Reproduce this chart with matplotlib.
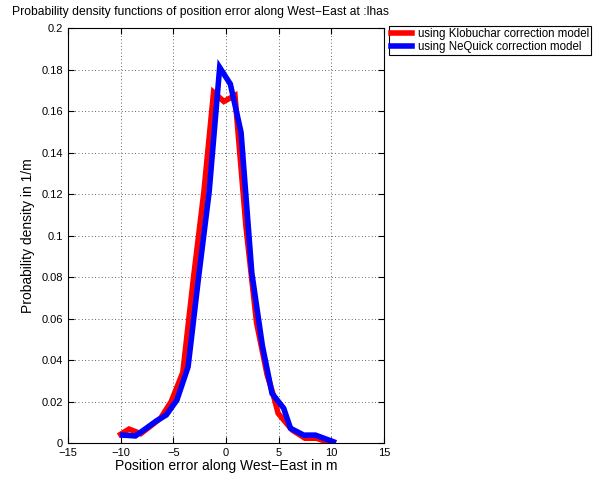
import matplotlib
matplotlib.use("Agg")
import matplotlib.pyplot as plt
import numpy as np

plt.rcParams['font.family'] = ['Liberation Sans', 'DejaVu Sans']

title = "Probability density functions of position error along West\u2212East at :lhas"
xlabel = "Position error along West\u2212East in m"
ylabel = "Probability density in 1/m"
labels = ["using Klobuchar correction model", "using NeQuick correction model"]

klob_x = [-10.0, -9.2, -8.1, -7.2, -6.2, -5.2, -4.1, -3.1, -2.1, -1.18, -0.2, 0.85,
          1.9, 2.9, 3.9, 4.5, 4.95, 6.27, 7.5, 8.6, 9.9]
klob_y = [0.0042, 0.0067, 0.0045, 0.008, 0.012, 0.020, 0.034, 0.079, 0.121, 0.169, 0.1646, 0.1675,
          0.104, 0.058, 0.033, 0.023, 0.0143, 0.0063, 0.0023, 0.0023, 0.0]

neq_x = [-9.8, -8.6, -7.6, -6.65, -5.67, -4.66, -3.6, -2.6, -1.6, -0.6, 0.41, 1.43,
         2.45, 3.45, 4.37, 5.48, 6.12, 7.38, 8.49, 10.2]
neq_y = [0.0038, 0.0034, 0.007, 0.0105, 0.0135, 0.0207, 0.0367, 0.080, 0.121, 0.181, 0.173, 0.1497,
         0.082, 0.047, 0.0239, 0.0167, 0.0071, 0.0038, 0.0038, 0.0006]

xticks = [-15, -10, -5, 0, 5, 10, 15]
yticks = [0, 0.02, 0.04, 0.06, 0.08, 0.1, 0.12, 0.14, 0.16, 0.18, 0.2]
ytick_labels = ["0", "0.02", "0.04", "0.06", "0.08", "0.1", "0.12", "0.14", "0.16", "0.18", "0.2"]

fig = plt.figure(figsize=(6.12, 4.79), dpi=100)
ax = fig.add_axes([68/612, 1-443/479, (384-68)/612, (443-28)/479])

l1, = ax.plot(klob_x, klob_y, color='#ff0000', lw=4, solid_joinstyle='miter')
l2, = ax.plot(neq_x, neq_y, color='#0000ff', lw=4, solid_joinstyle='miter')

ax.set_xlim(-15, 15)
ax.set_ylim(0, 0.2)
ax.set_xticks(xticks)
ax.set_xticklabels([str(t).replace('-', '\u2212') for t in xticks])
ax.set_yticks(yticks)
ax.set_yticklabels(ytick_labels)
ax.tick_params(direction='in', labelsize=8, length=4, top=True, right=True, width=0.8)
ax.grid(True, linestyle=(0, (1, 3)), color='#333333', linewidth=0.6)
for s in ax.spines.values():
    s.set_linewidth(0.8)

ax.set_xlabel(xlabel, fontsize=10, labelpad=1)
ax.set_ylabel(ylabel, fontsize=10, labelpad=5)

fig.text(12/612, 1-12/479, title, fontsize=8.7, ha='left', va='center')

leg = ax.legend([l1, l2], labels, loc='upper left', bbox_to_anchor=(389/612, 1-26/479),
                bbox_transform=fig.transFigure, fontsize=8.3, frameon=True, fancybox=False,
                edgecolor='black', framealpha=1, borderpad=0.2, handlelength=1.8,
                handletextpad=0.5, labelspacing=0.05, borderaxespad=0)
leg.get_frame().set_linewidth(0.8)

fig.savefig("out.png", dpi=100)
